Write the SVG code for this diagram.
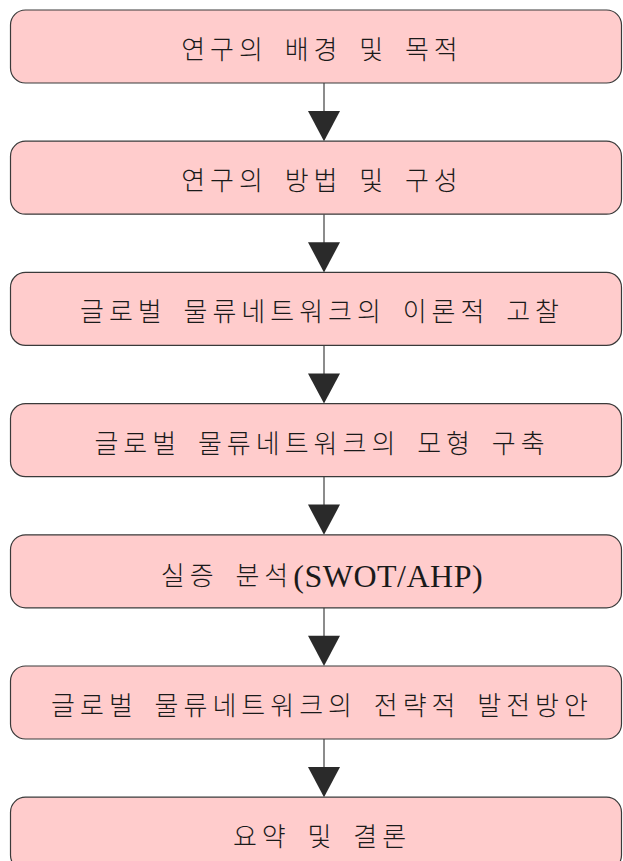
<svg xmlns="http://www.w3.org/2000/svg" width="623" height="861" viewBox="0 0 623 861">
<defs>
<style>
.box{fill:#ffcccc;stroke:#3a3a3a;stroke-width:1.2}
.lbl{font-family:"Noto Sans CJK KR","Noto Sans",sans-serif;font-size:26px;letter-spacing:5px;word-spacing:6px;fill:#1a1a1a;text-anchor:middle;font-weight:300}
.lat{font-family:"Liberation Serif",serif;font-size:32px;letter-spacing:0.5px}
.ln{stroke:#666;stroke-width:1.5;fill:none}
.hd{fill:#2a2a2a}
</style>
</defs>
<g id="connectors">
<line class="ln" x1="324" y1="83" x2="324" y2="112"/><polygon class="hd" points="308,111 340,111 324,141.2"/>
<line class="ln" x1="324" y1="214.2" x2="324" y2="243.2"/><polygon class="hd" points="308,242.2 340,242.2 324,272.4"/>
<line class="ln" x1="324" y1="345.4" x2="324" y2="374.4"/><polygon class="hd" points="308,373.4 340,373.4 324,403.6"/>
<line class="ln" x1="324" y1="476.6" x2="324" y2="505.6"/><polygon class="hd" points="308,504.6 340,504.6 324,534.8"/>
<line class="ln" x1="324" y1="607.8" x2="324" y2="636.8"/><polygon class="hd" points="308,635.8 340,635.8 324,666"/>
<line class="ln" x1="324" y1="739" x2="324" y2="768"/><polygon class="hd" points="308,767 340,767 324,797.2"/>
</g>
<g id="n1"><rect class="box" x="10.5" y="10" width="611" height="73" rx="15"/><text class="lbl" x="322" y="59">연구의 배경 및 목적</text></g>
<g id="n2"><rect class="box" x="10.5" y="141.2" width="611" height="73" rx="15"/><text class="lbl" x="322" y="190.2">연구의 방법 및 구성</text></g>
<g id="n3"><rect class="box" x="10.5" y="272.4" width="611" height="73" rx="15"/><text class="lbl" x="322" y="321.4">글로벌 물류네트워크의 이론적 고찰</text></g>
<g id="n4"><rect class="box" x="10.5" y="403.6" width="611" height="73" rx="15"/><text class="lbl" x="322" y="452.6">글로벌 물류네트워크의 모형 구축</text></g>
<g id="n5"><rect class="box" x="10.5" y="534.8" width="611" height="73" rx="15"/><text class="lbl" x="322" y="584.8">실증 분석<tspan class="lat" dy="2">(SWOT/AHP)</tspan></text></g>
<g id="n6"><rect class="box" x="10.5" y="666" width="611" height="73" rx="15"/><text class="lbl" x="322" y="715">글로벌 물류네트워크의 전략적 발전방안</text></g>
<g id="n7"><rect class="box" x="10.5" y="797.2" width="611" height="73" rx="15"/><text class="lbl" x="322" y="846.2">요약 및 결론</text></g>
</svg>
